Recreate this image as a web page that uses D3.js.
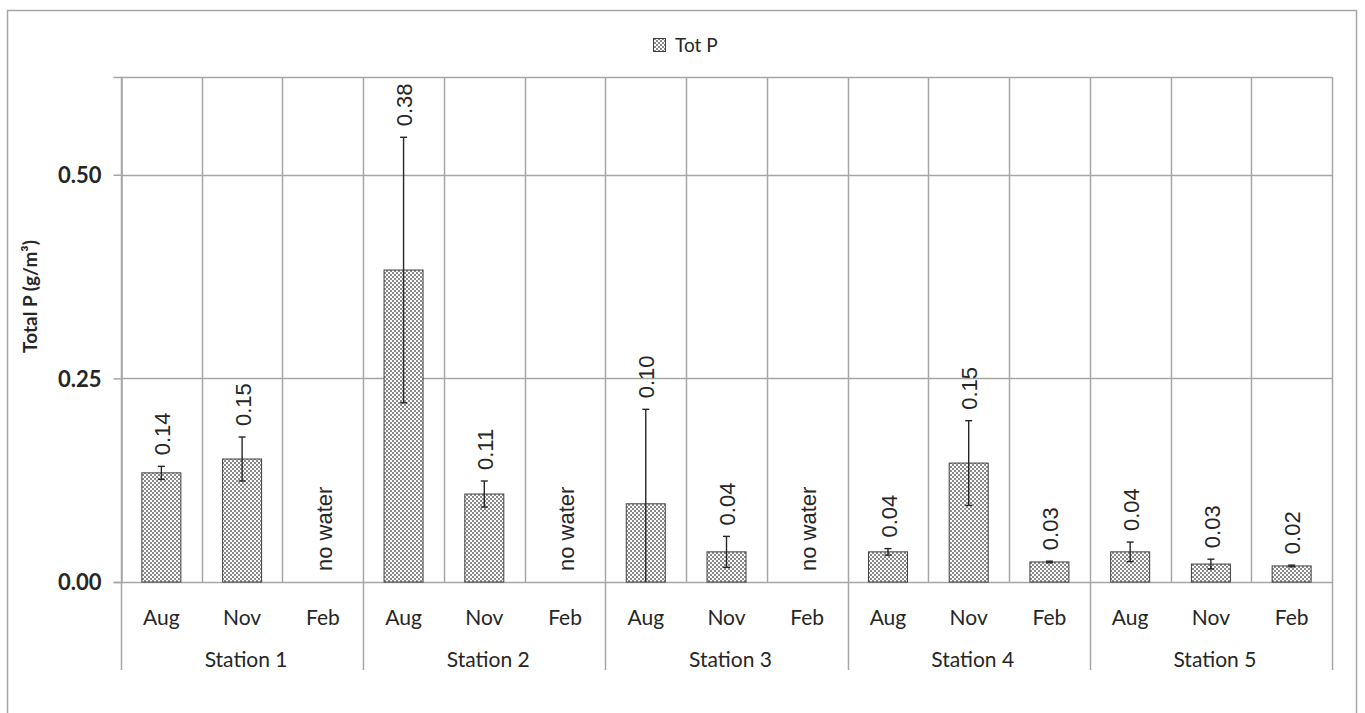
<!DOCTYPE html>
<html><head><meta charset="utf-8">
<script src="https://cdn.jsdelivr.net/npm/d3@7"></script>
<style>body{margin:0;background:#fff}svg{display:block}</style>
</head><body>
<svg id="c" width="1365" height="713"></svg>
<script>
// ---- data ----
const stations = ["Station 1","Station 2","Station 3","Station 4","Station 5"];
const months = ["Aug","Nov","Feb"];
const totP = [0.134,0.151,null, 0.383,0.108,null, 0.096,0.037,null, 0.037,0.146,0.0246, 0.037,0.022,0.0197];
const errP = [0.008,0.027,null, 0.163,0.016,null, 0.116,0.019,null, 0.004,0.052,0.001, 0.012,0.006,0.001];
const valueLabels = ["0.14","0.15","no water","0.38","0.11","no water","0.10","0.04","no water","0.04","0.15","0.03","0.04","0.03","0.02"];
const yTicks = [0,0.25,0.5];
const yTickLabels = ["0.00","0.25","0.50"];
const seriesName = "Tot P";
const yTitle = "Total P (g/m³)";

// ---- layout ----
const svg = d3.select("#c");
const L = 121, R = 1332, T = 77, B = 582;
const grid = "#a6a6a6";
const cats = [];
stations.forEach(s => months.forEach(m => cats.push(s + "|" + m)));
const x = d3.scaleBand().domain(cats).range([L, R]).padding(0);
const xs = d3.scaleBand().domain(stations).range([L, R]).padding(0);
const y = d3.scaleLinear().domain([0, 0.62]).range([B, T]);

// pattern
const defs = svg.append("defs");
const pat = defs.append("pattern").attr("id","chk").attr("patternUnits","userSpaceOnUse")
  .attr("width",4).attr("height",4);
pat.append("rect").attr("width",4).attr("height",4).attr("fill","#fff");
pat.append("rect").attr("width",2).attr("height",2).attr("fill","#8a8a8a");
pat.append("rect").attr("x",2).attr("y",2).attr("width",2).attr("height",2).attr("fill","#8a8a8a");

// outer border
svg.append("rect").attr("x",7.5).attr("y",10.5).attr("width",1349).attr("height",720)
  .attr("fill","none").attr("stroke",grid).attr("stroke-width",1.5);

// horizontal gridlines (incl. top border)
svg.append("g").selectAll("line").data(yTicks.filter(d => d > 0).concat([0.62])).join("line")
  .attr("x1",L).attr("x2",R).attr("y1",d => Math.round(y(d))+0.5).attr("y2",d => Math.round(y(d))+0.5)
  .attr("stroke",grid).attr("stroke-width",1.5);

// vertical category lines
const bounds = cats.map(c => x(c)).concat([R]);
svg.append("g").selectAll("line").data(bounds).join("line")
  .attr("x1",d => Math.round(d)+0.5).attr("x2",d => Math.round(d)+0.5)
  .attr("y1",T).attr("y2",(d,i) => (i % 3 === 0) ? 670 : B)
  .attr("stroke",grid).attr("stroke-width",1.5);

// y axis
const yAxis = d3.axisLeft(y).tickValues(yTicks).tickSize(8).tickFormat((d,i) => yTickLabels[i]);
const ya = svg.append("g").attr("transform",`translate(${L+0.5},0)`).call(yAxis);
ya.select(".domain").attr("stroke",grid).attr("stroke-width",1.5);
ya.selectAll(".tick line").attr("stroke",grid).attr("stroke-width",1.5);
ya.selectAll(".tick text").attr("x",-20).attr("dy","0.36em")
  .style("font-family","Lato, 'Open Sans', sans-serif").style("font-weight","bold")
  .style("font-size","22px").attr("fill","#262626");

// x axis line
svg.append("line").attr("x1",L).attr("x2",R).attr("y1",B+0.5).attr("y2",B+0.5)
  .attr("stroke",grid).attr("stroke-width",1.5);

// month labels
svg.append("g").selectAll("text").data(cats).join("text")
  .attr("x",d => x(d) + x.bandwidth()/2).attr("y",625)
  .attr("text-anchor","middle").style("font-family","Lato, 'Open Sans', sans-serif")
  .style("font-size","21px").attr("fill","#262626").text(d => d.split("|")[1]);
// station labels
svg.append("g").selectAll("text").data(stations).join("text")
  .attr("x",d => xs(d) + xs.bandwidth()/2 + 4).attr("y",667)
  .attr("text-anchor","middle").style("font-family","Lato, 'Open Sans', sans-serif")
  .style("font-size","21px").attr("fill","#262626").text(d => d);

// y title
svg.append("text").attr("transform",`translate(37,${(236+357)/2}) rotate(-90)`)
  .attr("text-anchor","middle").style("font-family","Lato, 'Open Sans', sans-serif")
  .style("font-weight","bold").style("font-size","19px").attr("fill","#262626").text(yTitle);

// bars
const bw = 39;
const data = cats.map((c,i) => ({c, v: totP[i], e: errP[i], lab: valueLabels[i]}));
svg.append("g").selectAll("rect").data(data.filter(d => d.v != null)).join("rect")
  .attr("x",d => x(d.c) + x.bandwidth()/2 - bw/2).attr("width",bw)
  .attr("y",d => y(d.v)).attr("height",d => y(0) - y(d.v))
  .attr("fill","url(#chk)").attr("stroke","#404040").attr("stroke-width",1);

// error bars
const eg = svg.append("g").attr("stroke","#262626").attr("stroke-width",1.4);
data.filter(d => d.v != null).forEach(d => {
  const cx = x(d.c) + x.bandwidth()/2;
  const hi = y(d.v + d.e), lo = y(Math.max(0, d.v - d.e));
  eg.append("line").attr("x1",cx).attr("x2",cx).attr("y1",hi).attr("y2",lo);
  eg.append("line").attr("x1",cx-3.5).attr("x2",cx+3.5).attr("y1",hi).attr("y2",hi);
  if (d.v - d.e > 0) eg.append("line").attr("x1",cx-3.5).attr("x2",cx+3.5).attr("y1",lo).attr("y2",lo);
});

// value labels
svg.append("g").selectAll("text").data(data).join("text")
  .attr("transform",d => {
    const cx = x(d.c) + x.bandwidth()/2 + 1;
    const yy = d.v == null ? y(0) - 11 : y(d.v + d.e) - 11;
    return `translate(${cx},${yy}) rotate(-90)`;
  })
  .attr("dy","0.35em").attr("text-anchor","start")
  .style("font-family","'Liberation Sans Narrow', 'Arial Narrow', sans-serif")
  .style("font-size","22px").attr("fill","#262626").text(d => d.lab);

// legend
svg.append("rect").attr("x",653.5).attr("y",38.5).attr("width",12).attr("height",13)
  .attr("fill","url(#chk)").attr("stroke","#404040").attr("stroke-width",1);
svg.append("text").attr("x",675).attr("y",52).style("font-family","Lato, 'Open Sans', sans-serif")
  .style("font-size","19px").attr("fill","#262626").text(seriesName);
</script>
</body></html>
